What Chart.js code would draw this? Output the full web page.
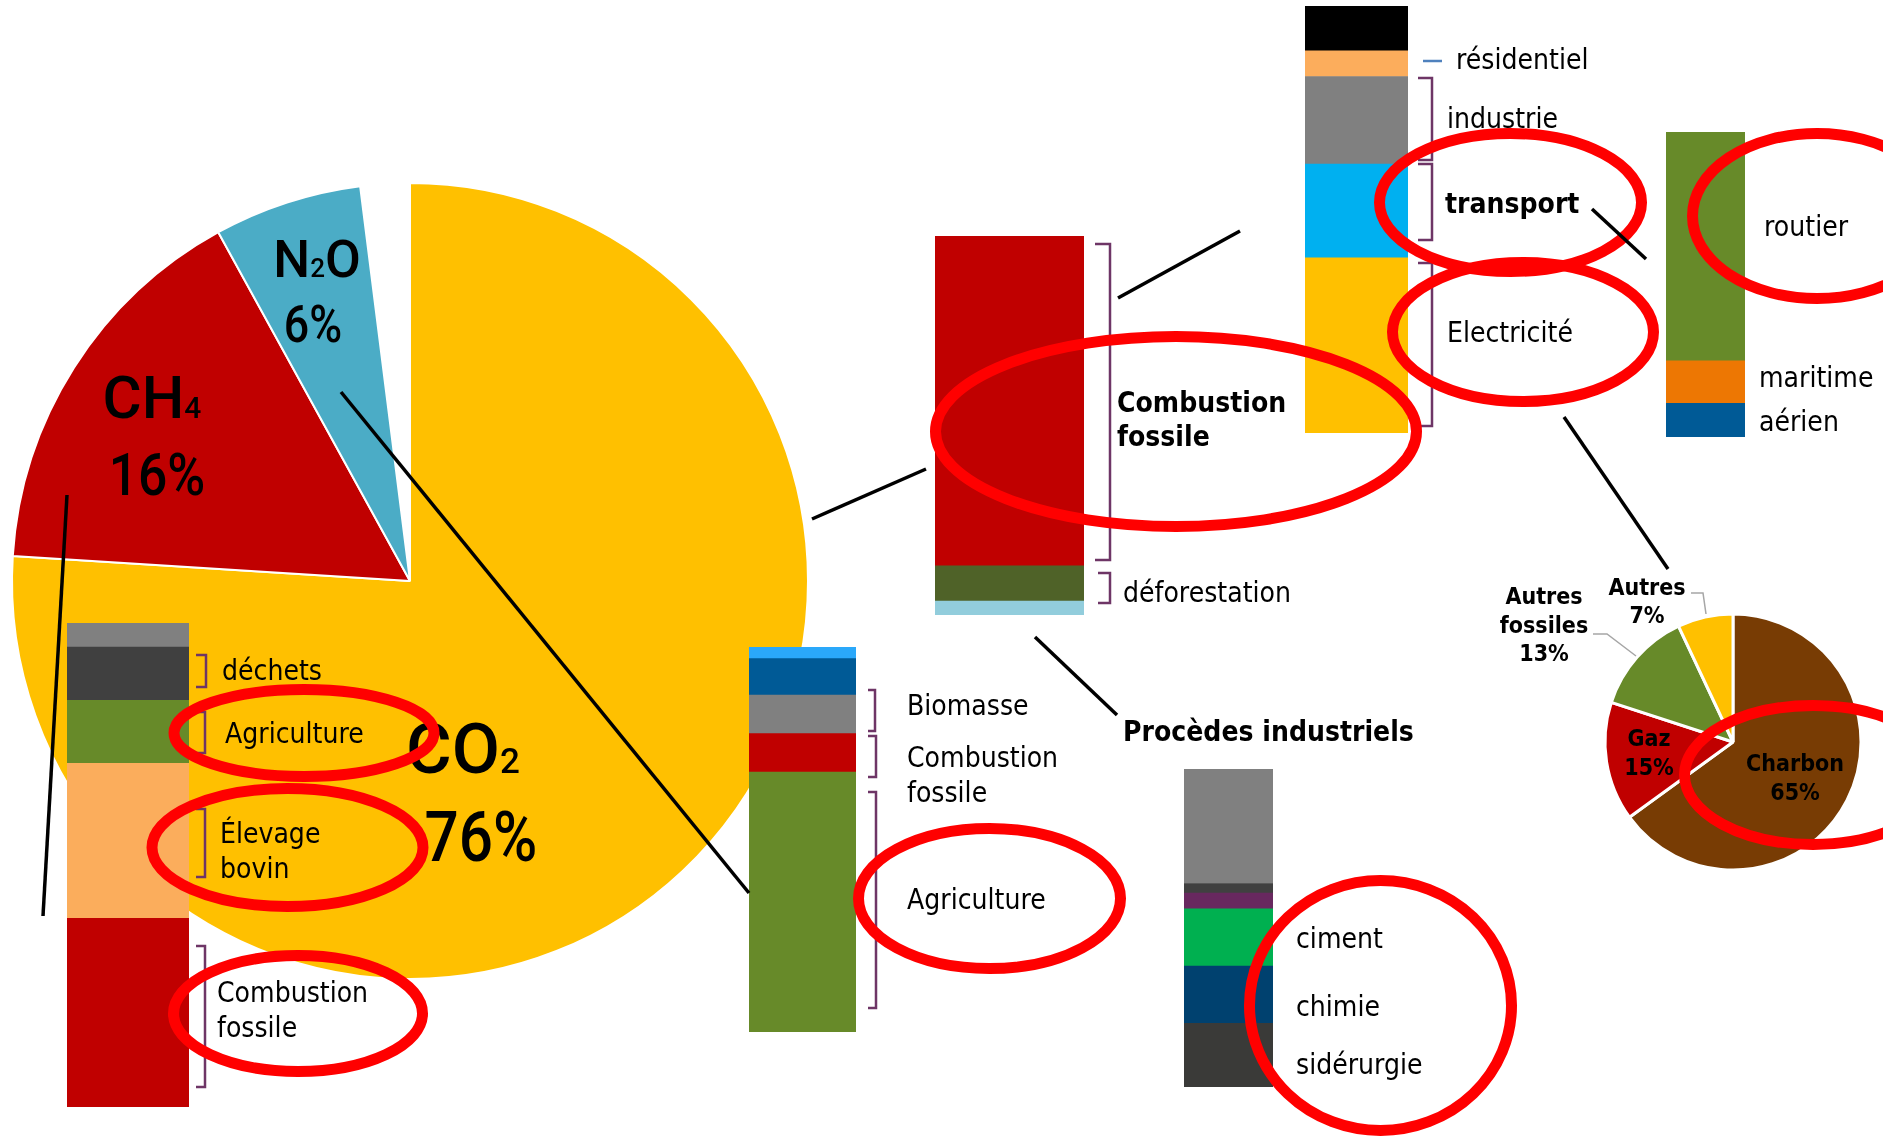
<!DOCTYPE html>
<html lang="fr">
<head>
<meta charset="utf-8">
<title>Émissions de gaz à effet de serre</title>
<script src="https://cdn.jsdelivr.net/npm/chart.js@4.4.1/dist/chart.umd.min.js"></script>
<style>
html, body { margin: 0; padding: 0; background: #fff; }
#page { position: relative; width: 1883px; height: 1140px; overflow: hidden; }
canvas { position: absolute; }
svg { position: absolute; left: 0; top: 0; }
.lbl {
    position: absolute; font-family: "DejaVu Sans", sans-serif; font-size: 29px;
    line-height: 1; color: #000; white-space: nowrap;
    transform: translateY(-50%) scaleX(0.87); transform-origin: left center;
}
.b { font-weight: bold; }
.pl {
    position: absolute; font-family: "DejaVu Sans", sans-serif; font-size: 23px; font-weight: bold;
    line-height: 1; white-space: nowrap;
    transform: translate(-50%, -50%) scaleX(0.9); transform-origin: center center;
}
.gas {
    position: absolute; font-family: Roboto, sans-serif; font-weight: 500;
    line-height: 1; white-space: nowrap;
    transform: translate(-50%, -50%); transform-origin: center center;
}
.gas.pct { transform: translate(-50%, -50%) scaleX(0.86); }
.gas small { font-size: 0.5em; }
</style>
</head>
<body>
<div id="page">
    <canvas id="gasPie" width="820" height="820" style="left:0px;top:171px;z-index:1"></canvas>
    <canvas id="ch4Bar" width="122" height="484" style="left:67px;top:623px;z-index:2"></canvas>
    <canvas id="n2oBar" width="107" height="385" style="left:749px;top:647px;z-index:2"></canvas>
    <canvas id="co2Bar" width="149" height="379" style="left:935px;top:236px;z-index:2"></canvas>
    <canvas id="procBar" width="89" height="318" style="left:1184px;top:769px;z-index:2"></canvas>
    <canvas id="sectorBar" width="103" height="427" style="left:1305px;top:6px;z-index:2"></canvas>
    <canvas id="transportBar" width="79" height="305" style="left:1666px;top:132px;z-index:2"></canvas>
    <canvas id="elecPie" width="280" height="280" style="left:1593px;top:602px;z-index:2"></canvas>

    <!-- brackets -->
    <svg width="1883" height="1140" style="z-index:3" fill="none" stroke="#6e3566" stroke-width="2.5">
        <path d="M196 655 H206 V687 H196"/>
        <path d="M196 712 H205 V753 H196"/>
        <path d="M196 809 H205 V877 H196"/>
        <path d="M196 946 H205 V1087 H196"/>
        <path d="M868 690 H875 V731 H868"/>
        <path d="M868 736 H876 V777 H868"/>
        <path d="M868 792 H876 V1008 H868"/>
        <path d="M1095 244 H1110 V560 H1095"/>
        <path d="M1098 573 H1110 V603 H1098"/>
        <path d="M1418 78 H1432 V160 H1418"/>
        <path d="M1418 164 H1432 V240 H1418"/>
        <path d="M1418 263 H1432 V426 H1418"/>
        <path d="M1423 61 H1442" stroke="#4f81bd"/>
        <path d="M1593 634 H1607 L1636 656" stroke="#a6a6a6" stroke-width="1.5"/>
        <path d="M1691 593 H1703 L1706 614" stroke="#a6a6a6" stroke-width="1.5"/>
    </svg>

    <!-- gas labels on the big pie -->
    <div class="gas" style="left:317px;top:260px;font-size:52px;z-index:4">N<small>2</small>O</div>
    <div class="gas pct" style="left:313px;top:325px;font-size:52px;z-index:4">6%</div>
    <div class="gas" style="left:152px;top:398px;font-size:60px;z-index:4">CH<small>4</small></div>
    <div class="gas pct" style="left:157px;top:475px;font-size:60px;z-index:4">16%</div>
    <div class="gas" style="left:463px;top:749px;font-size:70px;z-index:4">CO<small>2</small></div>
    <div class="gas pct" style="left:481px;top:837px;font-size:70px;z-index:4">76%</div>

    <!-- CH4 bar -->
    <div class="lbl" style="left:222px;top:670px;z-index:4">déchets</div>
    <div class="lbl" style="left:225px;top:733px;z-index:4">Agriculture</div>
    <div class="lbl" style="left:220px;top:833px;z-index:4">Élevage</div>
    <div class="lbl" style="left:220px;top:868px;z-index:4">bovin</div>
    <div class="lbl" style="left:217px;top:992px;z-index:4">Combustion</div>
    <div class="lbl" style="left:217px;top:1027px;z-index:4">fossile</div>

    <!-- N2O bar -->
    <div class="lbl" style="left:907px;top:705px;z-index:4">Biomasse</div>
    <div class="lbl" style="left:907px;top:757px;z-index:4">Combustion</div>
    <div class="lbl" style="left:907px;top:792px;z-index:4">fossile</div>
    <div class="lbl" style="left:907px;top:899px;z-index:4">Agriculture</div>

    <!-- CO2 bar -->
    <div class="lbl b" style="left:1117px;top:402px;z-index:4">Combustion</div>
    <div class="lbl b" style="left:1117px;top:436px;z-index:4">fossile</div>
    <div class="lbl" style="left:1123px;top:592px;z-index:4">déforestation</div>

    <!-- procédés industriels -->
    <div class="lbl b" style="left:1123px;top:731px;z-index:4">Procèdes industriels</div>
    <div class="lbl" style="left:1296px;top:938px;z-index:4">ciment</div>
    <div class="lbl" style="left:1296px;top:1006px;z-index:4">chimie</div>
    <div class="lbl" style="left:1296px;top:1064px;z-index:4">sidérurgie</div>

    <!-- secteurs -->
    <div class="lbl" style="left:1456px;top:59px;z-index:4">résidentiel</div>
    <div class="lbl" style="left:1447px;top:118px;z-index:4">industrie</div>
    <div class="lbl b" style="left:1445px;top:203px;z-index:4">transport</div>
    <div class="lbl" style="left:1447px;top:332px;z-index:4">Electricité</div>

    <!-- transport -->
    <div class="lbl" style="left:1764px;top:226px;z-index:4">routier</div>
    <div class="lbl" style="left:1759px;top:377px;z-index:4">maritime</div>
    <div class="lbl" style="left:1759px;top:421px;z-index:4">aérien</div>

    <!-- electricity pie -->
    <div class="pl" style="left:1795px;top:763px;z-index:4">Charbon</div>
    <div class="pl" style="left:1795px;top:792px;z-index:4">65%</div>
    <div class="pl" style="left:1649px;top:738px;z-index:4">Gaz</div>
    <div class="pl" style="left:1649px;top:767px;z-index:4">15%</div>
    <div class="pl" style="left:1544px;top:596px;z-index:4">Autres</div>
    <div class="pl" style="left:1544px;top:625px;z-index:4">fossiles</div>
    <div class="pl" style="left:1544px;top:653px;z-index:4">13%</div>
    <div class="pl" style="left:1647px;top:587px;z-index:4">Autres</div>
    <div class="pl" style="left:1647px;top:615px;z-index:4">7%</div>

    <!-- red highlight ellipses -->
    <svg width="1883" height="1140" style="z-index:5" fill="none" stroke="#ff0000" stroke-width="11">
        <ellipse cx="304" cy="733" rx="130" ry="43.5"/>
        <ellipse cx="287.5" cy="847.5" rx="135.5" ry="59"/>
        <ellipse cx="298" cy="1013.5" rx="124.5" ry="58"/>
        <ellipse cx="989.5" cy="898.5" rx="131" ry="70"/>
        <ellipse cx="1176" cy="431.5" rx="240.5" ry="95"/>
        <ellipse cx="1510.5" cy="202.5" rx="131" ry="69"/>
        <ellipse cx="1523" cy="332" rx="130.5" ry="69.5"/>
        <ellipse cx="1817" cy="216" rx="124.5" ry="82.5"/>
        <ellipse cx="1813" cy="775" rx="128.5" ry="69.5"/>
        <ellipse cx="1380.5" cy="1005.5" rx="131" ry="125"/>
    </svg>

    <!-- connecting lines -->
    <svg width="1883" height="1140" style="z-index:6" stroke="#000" stroke-width="3.5">
        <line x1="67" y1="495" x2="43" y2="916"/>
        <line x1="341" y1="392" x2="749" y2="893"/>
        <line x1="812" y1="519" x2="926" y2="469"/>
        <line x1="1118" y1="298" x2="1240" y2="231"/>
        <line x1="1035" y1="637" x2="1117" y2="715"/>
        <line x1="1592" y1="209" x2="1646" y2="259"/>
        <line x1="1564" y1="417" x2="1668" y2="569"/>
    </svg>
</div>

<script>
// share of each gas in global emissions (clockwise from 12 o'clock)
const gasLabels = ['CO2', 'CH4', 'N2O', 'gaz fluorés']
const gasValues = [76, 16, 6, 2]
const gasColors = ['#ffc000', '#c00000', '#4bacc6', 'rgba(0,0,0,0)']

// CH4 sources, bottom to top
const ch4Labels = ['Combustion fossile', 'Élevage bovin', 'Agriculture', 'déchets', 'autres']
const ch4Values = [39, 32, 13, 11, 5]
const ch4Colors = ['#c00000', '#fbad5c', '#678a29', '#404040', '#808080']

// N2O sources, bottom to top
const n2oLabels = ['Agriculture', 'Combustion fossile', 'Biomasse', 'autres', 'divers']
const n2oValues = [67.5, 10, 10, 9.5, 3]
const n2oColors = ['#678a29', '#c00000', '#808080', '#005a96', '#2aa8fa']

// CO2 sources, bottom to top
const co2Labels = ['autres', 'déforestation', 'Combustion fossile']
const co2Values = [3.7, 9.3, 87]
const co2Colors = ['#92cddc', '#4f6228', '#c00000']

// procédés industriels, bottom to top
const procLabels = ['sidérurgie', 'chimie', 'ciment', 'autres 1', 'autres 2', 'autres 3']
const procValues = [20, 18, 18, 5, 3, 36]
const procColors = ['#3a3a38', '#00416f', '#00b050', '#68285f', '#404040', '#808080']

// combustion fossile by sector, bottom to top
const sectorLabels = ['Electricité', 'transport', 'industrie', 'résidentiel', 'autres']
const sectorValues = [41, 22, 20.5, 6, 10.5]
const sectorColors = ['#ffc000', '#00b0f0', '#808080', '#fcad5c', '#000000']

// transport, bottom to top
const transportLabels = ['aérien', 'maritime', 'routier']
const transportValues = [11, 14, 75]
const transportColors = ['#005a96', '#ed7703', '#678a29']

// electricity production
const elecLabels = ['Charbon', 'Gaz', 'Autres fossiles', 'Autres']
const elecValues = [65, 15, 13, 7]
const elecColors = ['#783c04', '#c00000', '#678a29', '#ffc000']

function stackBar(id, labels, values, colors) {
    const total = values.reduce((a, b) => a + b, 0)
    const ctx = document.getElementById(id).getContext('2d')
    return new Chart(ctx, {
        type: 'bar',
        data: {
            labels: [''],
            datasets: values.map((v, i) => ({
                label: labels[i],
                data: [v],
                backgroundColor: colors[i],
                borderWidth: 0,
                barPercentage: 1,
                categoryPercentage: 1
            }))
        },
        options: {
            responsive: false,
            animation: false,
            events: [],
            layout: { padding: 0 },
            plugins: { legend: { display: false }, tooltip: { enabled: false } },
            scales: {
                x: { stacked: true, display: false },
                y: { stacked: true, display: false, min: 0, max: total }
            }
        }
    })
}

function pie(id, labels, values, colors, radius, border) {
    const ctx = document.getElementById(id).getContext('2d')
    return new Chart(ctx, {
        type: 'pie',
        data: {
            labels: labels,
            datasets: [{
                data: values,
                backgroundColor: colors,
                borderColor: '#ffffff',
                borderWidth: colors.map(c => c === 'rgba(0,0,0,0)' ? 0 : border),
                hoverOffset: 0
            }]
        },
        options: {
            responsive: false,
            animation: false,
            events: [],
            radius: radius,
            layout: { padding: 0 },
            plugins: { legend: { display: false }, tooltip: { enabled: false } }
        }
    })
}

pie('gasPie', gasLabels, gasValues, gasColors, 398, 2)
pie('elecPie', elecLabels, elecValues, elecColors, 128, 3)
stackBar('ch4Bar', ch4Labels, ch4Values, ch4Colors)
stackBar('n2oBar', n2oLabels, n2oValues, n2oColors)
stackBar('co2Bar', co2Labels, co2Values, co2Colors)
stackBar('procBar', procLabels, procValues, procColors)
stackBar('sectorBar', sectorLabels, sectorValues, sectorColors)
stackBar('transportBar', transportLabels, transportValues, transportColors)
</script>
</body>
</html>
